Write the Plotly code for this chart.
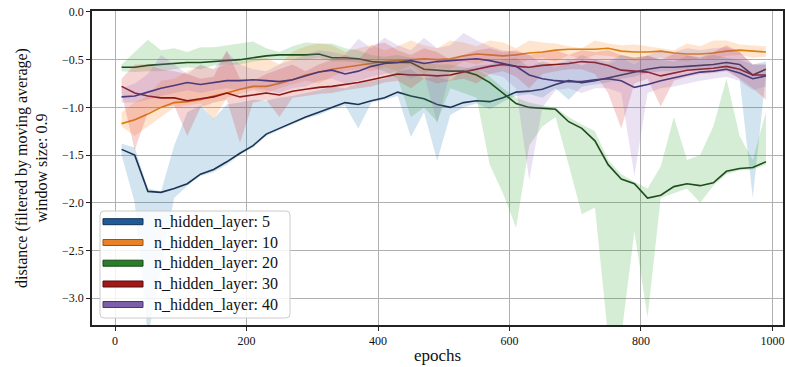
import plotly.graph_objects as go

epochs = list(range(10, 1000, 20))

labels = ["n_hidden_layer: 5", "n_hidden_layer: 10", "n_hidden_layer: 20",
          "n_hidden_layer: 30", "n_hidden_layer: 40"]

# smoothed lines
line_5 = [-1.44,-1.50,-1.88,-1.89,-1.85,-1.80,-1.70,-1.65,-1.57,-1.48,-1.40,-1.28,-1.22,-1.16,-1.10,-1.05,-1.00,-0.95,-0.97,-0.93,
          -0.90,-0.84,-0.88,-0.91,-0.97,-1.00,-0.95,-0.93,-0.94,-0.90,-0.84,-0.83,-0.81,-0.76,-0.72,-0.74,-0.72,-0.69,-0.66,-0.63,
          -0.60,-0.58,-0.58,-0.57,-0.56,-0.55,-0.53,-0.55,-0.66,-0.60]
line_10 = [-1.17,-1.13,-1.07,-1.00,-0.95,-0.94,-0.92,-0.88,-0.85,-0.81,-0.78,-0.78,-0.75,-0.71,-0.66,-0.63,-0.60,-0.58,-0.56,-0.54,
           -0.52,-0.51,-0.50,-0.49,-0.50,-0.49,-0.46,-0.44,-0.45,-0.46,-0.45,-0.43,-0.42,-0.40,-0.39,-0.39,-0.39,-0.38,-0.41,-0.42,
           -0.42,-0.41,-0.43,-0.44,-0.44,-0.43,-0.41,-0.40,-0.41,-0.42]
line_20 = [-0.58,-0.58,-0.56,-0.55,-0.54,-0.53,-0.53,-0.52,-0.51,-0.50,-0.48,-0.46,-0.45,-0.45,-0.45,-0.44,-0.48,-0.48,-0.49,-0.52,
           -0.53,-0.53,-0.53,-0.60,-0.61,-0.62,-0.62,-0.66,-0.74,-0.85,-0.96,-1.00,-1.01,-1.02,-1.15,-1.22,-1.35,-1.60,-1.75,-1.80,
           -1.95,-1.92,-1.83,-1.80,-1.82,-1.79,-1.67,-1.64,-1.63,-1.57]
line_30 = [-0.78,-0.85,-0.88,-0.90,-0.90,-0.93,-0.91,-0.89,-0.85,-0.89,-0.87,-0.85,-0.87,-0.83,-0.81,-0.79,-0.78,-0.76,-0.74,-0.71,
           -0.68,-0.65,-0.66,-0.66,-0.67,-0.66,-0.63,-0.60,-0.57,-0.55,-0.57,-0.58,-0.56,-0.55,-0.54,-0.52,-0.53,-0.56,-0.61,-0.62,
           -0.63,-0.67,-0.64,-0.61,-0.60,-0.59,-0.57,-0.60,-0.66,-0.66]
line_40 = [-0.89,-0.88,-0.84,-0.80,-0.77,-0.74,-0.76,-0.74,-0.72,-0.72,-0.71,-0.72,-0.73,-0.71,-0.67,-0.63,-0.61,-0.65,-0.62,-0.57,
           -0.54,-0.53,-0.51,-0.54,-0.52,-0.51,-0.50,-0.49,-0.51,-0.54,-0.57,-0.66,-0.70,-0.72,-0.73,-0.73,-0.71,-0.70,-0.72,-0.79,
           -0.76,-0.72,-0.69,-0.66,-0.63,-0.62,-0.60,-0.64,-0.70,-0.67]

# band edges (raw spread)
up_5 = [-1.38,-1.42,-1.85,-1.88,-1.40,-1.05,-0.98,-1.12,-0.97,-0.95,-0.92,-0.93,-0.90,-0.88,-0.85,-0.82,-0.78,-0.80,-0.75,-0.72,
        -0.70,-0.62,-0.60,-0.70,-0.68,-0.72,-0.60,-0.56,-0.55,-0.50,-0.48,-0.58,-0.52,-0.55,-0.50,-0.56,-0.50,-0.52,-0.45,-0.48,
        -0.46,-0.50,-0.52,-0.46,-0.48,-0.45,-0.48,-0.50,-0.55,-0.52]
lo_5 = [-1.50,-2.00,-3.40,-2.70,-1.95,-1.82,-1.72,-1.68,-1.60,-1.50,-1.42,-1.30,-1.24,-1.18,-1.12,-1.08,-1.02,-0.98,-1.22,-0.95,
        -0.92,-0.88,-1.31,-1.05,-1.56,-1.08,-1.00,-0.96,-1.02,-0.94,-0.88,-0.86,-0.90,-0.80,-0.92,-0.78,-0.76,-0.74,-0.70,-0.68,
        -0.64,-0.62,-0.62,-0.60,-0.60,-0.58,-0.60,-0.70,-1.95,-0.65]
up_10 = [-1.05,-0.95,-0.88,-0.72,-0.70,-0.62,-0.56,-0.60,-0.55,-0.52,-0.50,-0.48,-0.55,-0.42,-0.36,-0.33,-0.35,-0.42,-0.38,-0.35,
         -0.40,-0.36,-0.30,-0.35,-0.38,-0.30,-0.32,-0.36,-0.30,-0.32,-0.38,-0.30,-0.32,-0.33,-0.36,-0.38,-0.30,-0.33,-0.35,-0.34,
         -0.36,-0.38,-0.40,-0.33,-0.36,-0.30,-0.30,-0.34,-0.35,-0.36]
lo_10 = [-1.20,-1.30,-1.20,-1.10,-1.00,-0.98,-0.96,-1.13,-0.90,-0.86,-0.82,-0.85,-0.80,-0.76,-0.72,-0.75,-0.68,-0.62,-0.60,-0.62,
         -0.58,-0.62,-0.56,-0.65,-0.58,-0.60,-0.52,-0.55,-0.50,-0.58,-0.55,-0.50,-0.48,-0.52,-0.45,-0.50,-0.45,-0.46,-0.48,-0.52,
         -0.50,-0.48,-0.50,-0.52,-0.48,-0.50,-0.46,-0.45,-0.48,-0.47]
up_20 = [-0.55,-0.42,-0.29,-0.40,-0.38,-0.42,-0.37,-0.37,-0.35,-0.33,-0.31,-0.38,-0.42,-0.36,-0.32,-0.33,-0.33,-0.38,-0.40,-0.45,
         -0.47,-0.45,-0.48,-0.52,-0.55,-0.55,-0.58,-0.60,-0.68,-0.80,-0.90,-0.95,-0.98,-1.00,-1.10,-1.18,-1.25,-1.55,-1.70,-1.78,
         -1.85,-1.62,-1.10,-1.55,-1.50,-1.20,-0.70,-1.30,-1.55,-1.05]
lo_20 = [-0.62,-0.63,-0.62,-0.62,-0.60,-0.58,-0.60,-0.56,-0.55,-0.55,-0.52,-0.50,-0.50,-0.50,-0.50,-0.48,-0.52,-0.52,-0.53,-0.58,
         -0.62,-0.70,-1.10,-1.00,-1.15,-0.80,-0.85,-0.90,-1.60,-1.90,-2.26,-1.40,-1.20,-1.10,-1.60,-2.12,-2.05,-3.40,-3.40,-2.30,
         -3.20,-1.95,-1.90,-1.85,-2.00,-1.82,-1.70,-1.66,-1.65,-1.60]
up_30 = [-0.70,-0.55,-0.55,-0.60,-0.62,-0.65,-0.70,-0.68,-0.40,-0.70,-0.72,-0.65,-0.60,-0.55,-0.62,-0.55,-0.50,-0.45,-0.50,-0.35,
         -0.32,-0.40,-0.45,-0.38,-0.42,-0.50,-0.45,-0.40,-0.38,-0.42,-0.40,-0.45,-0.42,-0.40,-0.45,-0.40,-0.42,-0.40,-0.45,-0.48,
         -0.46,-0.50,-0.44,-0.45,-0.48,-0.42,-0.35,-0.42,-0.55,-0.55]
lo_30 = [-0.85,-1.45,-1.05,-1.00,-0.98,-1.30,-1.00,-0.95,-0.92,-1.37,-0.95,-0.92,-1.10,-0.90,-0.88,-0.86,-0.85,-0.82,-0.80,-0.78,
         -0.74,-0.72,-0.80,-0.70,-0.75,-0.72,-0.70,-0.75,-0.65,-0.62,-0.68,-0.80,-0.65,-0.62,-0.60,-0.60,-0.65,-0.85,-1.22,-0.75,
         -0.70,-0.99,-0.72,-0.68,-0.65,-0.64,-0.62,-0.70,-0.80,-0.92]
up_40 = [-0.80,-0.75,-0.65,-0.45,-0.55,-0.65,-0.55,-0.60,-0.42,-0.55,-0.60,-0.62,-0.55,-0.50,-0.45,-0.40,-0.42,-0.45,-0.28,-0.38,
         -0.27,-0.35,-0.40,-0.27,-0.38,-0.35,-0.22,-0.30,-0.36,-0.40,-0.42,-0.45,-0.55,-0.58,-0.52,-0.45,-0.50,-0.55,-0.48,-0.55,
         -0.45,-0.40,-0.42,-0.38,-0.40,-0.38,-0.37,-0.42,-0.55,-0.55]
lo_40 = [-0.95,-0.95,-0.92,-0.88,-0.85,-0.82,-0.85,-0.82,-0.80,-0.82,-0.80,-0.82,-0.85,-0.80,-0.78,-0.72,-0.70,-0.75,-0.72,-0.68,
         -0.65,-0.62,-0.70,-0.65,-1.17,-0.62,-0.65,-0.60,-0.65,-0.68,-0.80,-1.76,-1.00,-0.82,-0.80,-0.85,-0.80,-0.80,-0.85,-1.72,
         -0.85,-0.80,-0.78,-0.75,-0.72,-0.70,-0.68,-0.72,-0.82,-0.78]

lines = [line_5, line_10, line_20, line_30, line_40]
uppers = [up_5, up_10, up_20, up_30, up_40]
lowers = [lo_5, lo_10, lo_20, lo_30, lo_40]

band_colors = ["rgba(31,119,180,0.2)", "rgba(255,127,14,0.2)", "rgba(44,160,44,0.2)",
               "rgba(214,39,40,0.2)", "rgba(148,103,189,0.2)"]
line_colors = ["#1b3354", "#d9800f", "#1e4d1e", "#861818", "#4a3a7a"]
legend_colors = ["#1f5b99", "#e8822a", "#2a7d2a", "#a01818", "#7c5fa8"]
legend_edges = ["#12304f", "#9a5412", "#174a17", "#5a0c0c", "#4a3868"]

fig = go.Figure()
for i in range(5):
    fig.add_trace(go.Scatter(x=epochs, y=uppers[i], mode="lines", line=dict(width=0),
                             showlegend=False, hoverinfo="skip"))
    fig.add_trace(go.Scatter(x=epochs, y=lowers[i], mode="lines", line=dict(width=0),
                             fill="tonexty", fillcolor=band_colors[i],
                             showlegend=False, hoverinfo="skip"))
    fig.add_trace(go.Scatter(x=epochs, y=lines[i], mode="lines",
                             line=dict(color=line_colors[i], width=1.6),
                             showlegend=False, name=labels[i]))

serif = "Liberation Serif, Times New Roman, serif"

# hand-built legend box (plot area: 691 x 314 px)
W, H = 691.0, 314.0
def px(v):
    return v / W
def py(v):
    return v / H

bx0, bx1 = px(8), px(198)
by0, by1 = py(7), py(114)
r = 4
path = (f"M {bx0 + px(r)},{by0} L {bx1 - px(r)},{by0} Q {bx1},{by0} {bx1},{by0 + py(r)} "
        f"L {bx1},{by1 - py(r)} Q {bx1},{by1} {bx1 - px(r)},{by1} "
        f"L {bx0 + px(r)},{by1} Q {bx0},{by1} {bx0},{by1 - py(r)} "
        f"L {bx0},{by0 + py(r)} Q {bx0},{by0} {bx0 + px(r)},{by0} Z")
shapes = [dict(type="path", xref="paper", yref="paper", path=path,
               fillcolor="rgba(255,255,255,0.85)", line=dict(color="#cccccc", width=1), layer="above")]
annotations = []
row_centers = [103.3, 82.5, 61.8, 41.0, 20.5]  # px above plot bottom
for i in range(5):
    yc = row_centers[i]
    shapes.append(dict(type="rect", xref="paper", yref="paper",
                       x0=px(11), x1=px(51), y0=py(yc - 3), y1=py(yc + 3),
                       fillcolor=legend_colors[i], line=dict(color=legend_edges[i], width=1),
                       layer="above"))
    annotations.append(dict(xref="paper", yref="paper", x=px(60), y=py(yc),
                            xanchor="left", yanchor="middle", showarrow=False,
                            text=labels[i], font=dict(family=serif, size=16, color="#111")))

fig.update_layout(
    width=785, height=367,
    margin=dict(l=92, r=2, t=11, b=42),
    plot_bgcolor="white", paper_bgcolor="white",
    font=dict(family=serif, color="#111", size=12),
    showlegend=False,
    shapes=shapes, annotations=annotations,
    xaxis=dict(range=[-35, 1016], tickvals=[0, 200, 400, 600, 800, 1000],
               automargin=False,
               showgrid=True, gridcolor="#b0b0b0", gridwidth=1,
               showline=True, linecolor="#222", linewidth=1.5, mirror=True,
               ticks="outside", ticklen=4, tickcolor="#222", zeroline=False,
               tickfont=dict(family=serif, size=12),
               title=dict(text="epochs", font=dict(family=serif, size=17), standoff=2)),
    yaxis=dict(range=[-3.28, 0.01], tick0=0, dtick=0.5, tickformat=".1f",
               automargin=False,
               showgrid=True, gridcolor="#b0b0b0", gridwidth=1,
               showline=True, linecolor="#222", linewidth=1.5, mirror=True,
               ticks="outside", ticklen=4, tickcolor="#222", zeroline=False,
               tickfont=dict(family=serif, size=12),
               title=dict(text="distance (filtered by moving average)<br>window size: 0.9",
                          font=dict(family=serif, size=16), standoff=10)),
)
fig.write_html("out.html", config={"displayModeBar": False},
               post_script="document.body.style.margin='0';document.body.style.overflow='hidden';")
